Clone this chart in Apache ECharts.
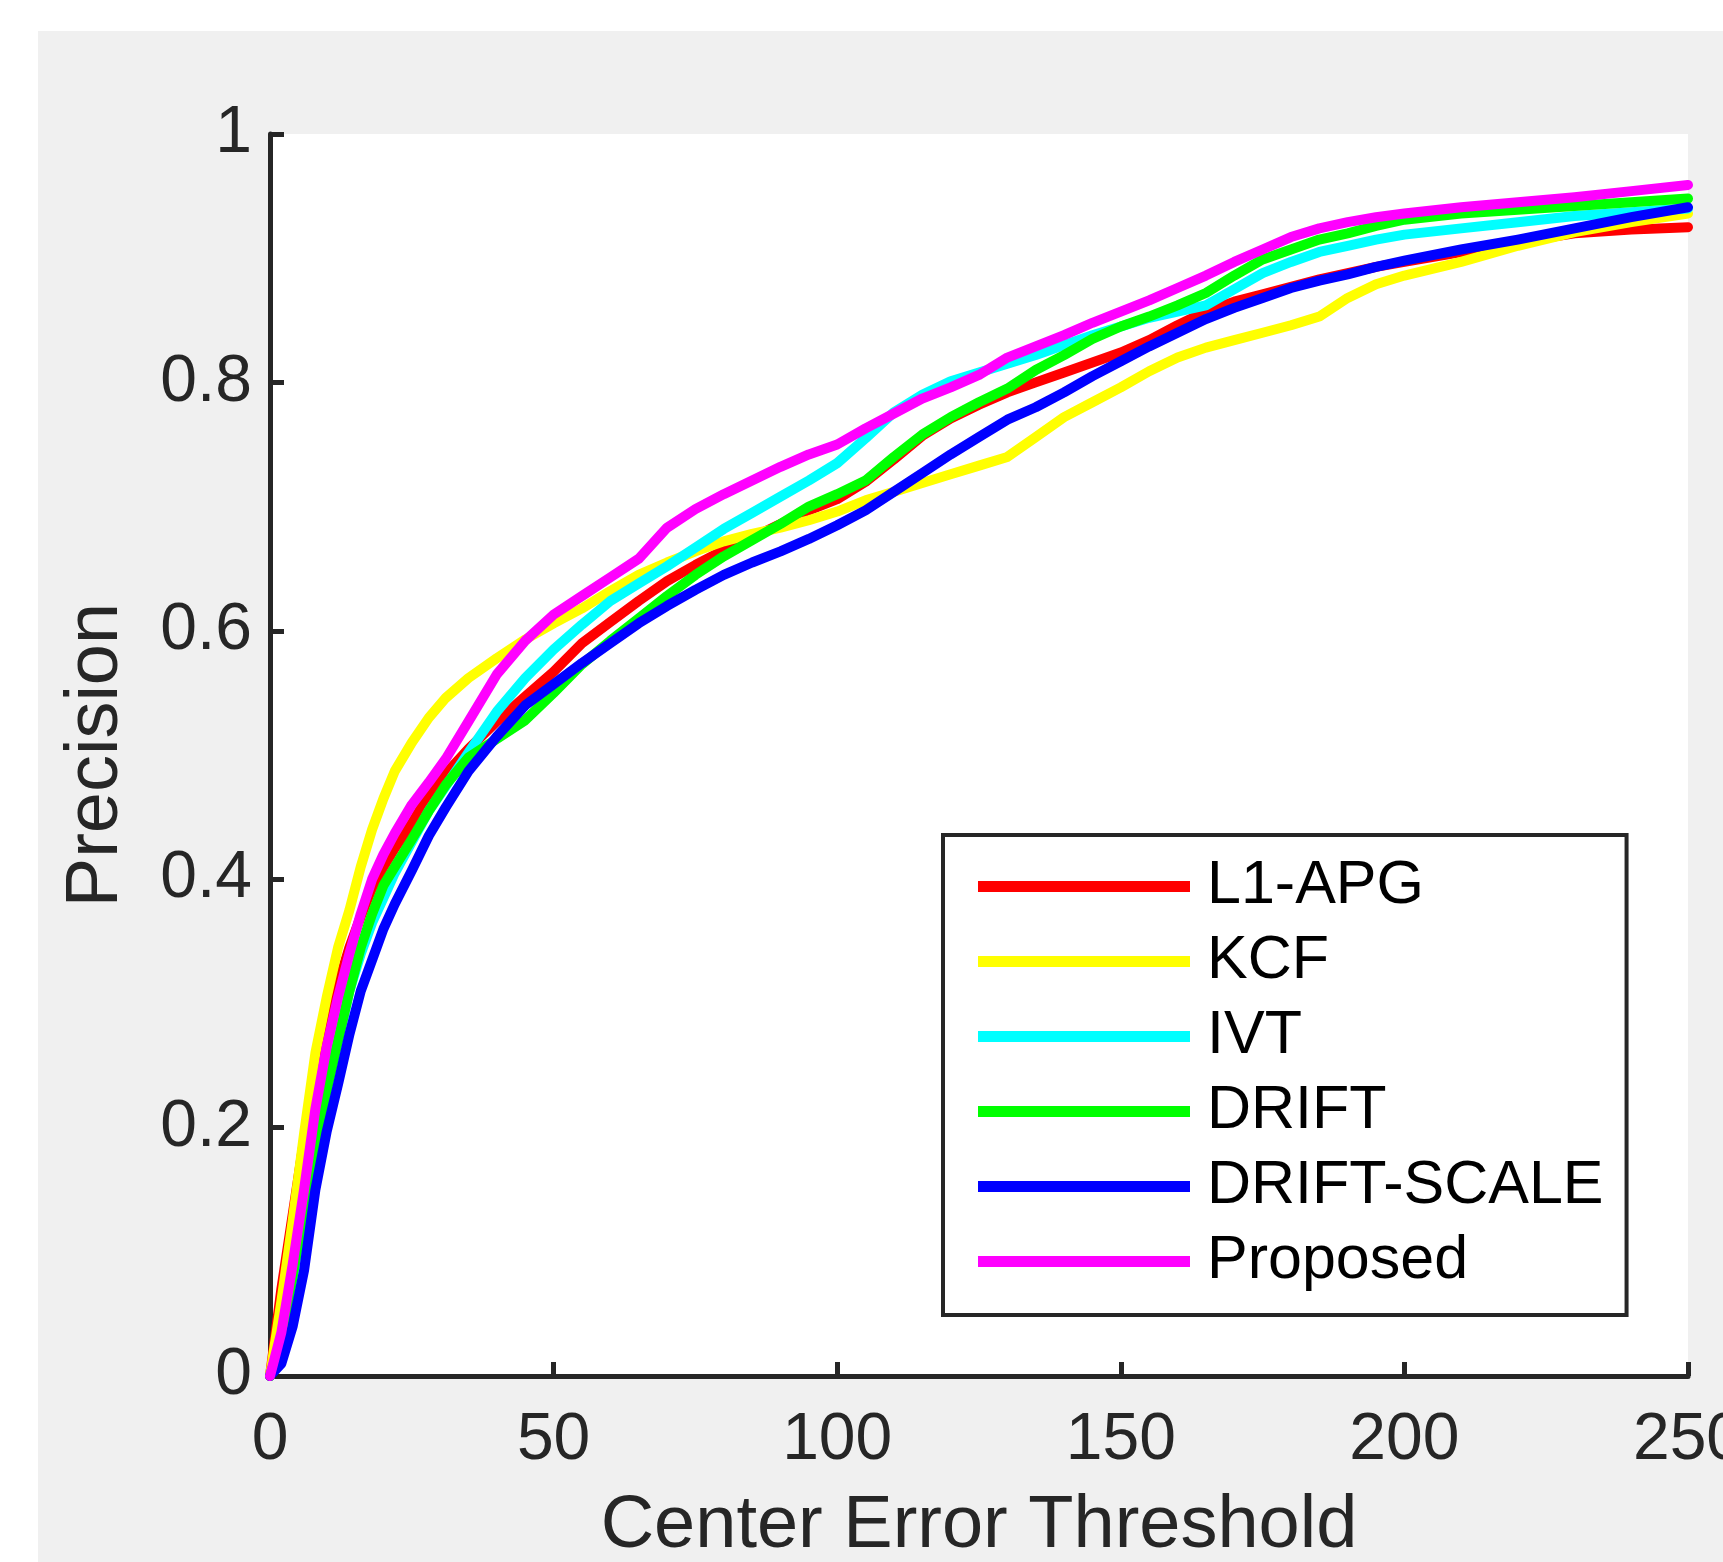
<!DOCTYPE html>
<html><head><meta charset="utf-8">
<script src="https://cdn.jsdelivr.net/npm/echarts@6/dist/echarts.min.js"></script>
<style>
html,body{margin:0;padding:0;background:#fff;width:1723px;height:1562px;overflow:hidden}
#chart{position:absolute;left:38px;top:31px;width:1685px;height:1531px}
</style>
</head><body><div id="chart"></div>
<script>
const xValues = [0,2,4,6,8,10,12,14,16,18,20,22,25,28,31,35,40,45,50,55,60,65,70,75,80,85,90,95,100,105,110,115,120,125,130,135,140,145,150,155,160,165,170,175,180,185,190,195,200,210,220,230,240,250];

const l1apg = [0,0.07,0.13,0.19,0.24,0.28, 0.315,0.345,0.37,0.393,0.41, 0.425,0.445,0.468,0.485,0.505, 0.527,0.547,0.567,0.59,0.607, 0.624,0.64,0.653,0.665,0.675, 0.686,0.697,0.706,0.72,0.738, 0.757,0.771,0.782,0.792,0.80, 0.808,0.816,0.824,0.834,0.846, 0.857,0.865,0.871,0.877,0.883, 0.888,0.893,0.897, 0.905,0.913,0.92,0.923,0.925];
const kcf = [0,0.06,0.125,0.195,0.26,0.305, 0.345,0.375,0.41,0.44,0.465, 0.487,0.51,0.53,0.546,0.562, 0.578,0.593,0.606,0.618,0.632, 0.645,0.655,0.664,0.672,0.678, 0.683,0.689,0.696,0.705,0.712, 0.719,0.726,0.733,0.74,0.756, 0.772,0.784,0.796,0.809,0.82, 0.828,0.834,0.84,0.846,0.853, 0.868,0.879,0.886, 0.897,0.91,0.921,0.929,0.936];
const ivt = [0,0.03,0.08,0.13,0.18,0.23, 0.27,0.31,0.34,0.365,0.385, 0.405,0.43,0.455,0.475,0.502, 0.535,0.562,0.585,0.605,0.624, 0.638,0.652,0.667,0.682,0.695, 0.708,0.721,0.735,0.755,0.776, 0.79,0.801,0.808,0.815,0.822, 0.83,0.838,0.845,0.852,0.857, 0.862,0.875,0.888,0.897,0.905, 0.91,0.915,0.919, 0.924,0.929,0.934,0.937,0.94];
const drift = [0,0.03,0.08,0.135,0.185,0.23, 0.27,0.31,0.345,0.372,0.395, 0.41,0.432,0.455,0.476,0.498, 0.513,0.528,0.55,0.573,0.592, 0.61,0.628,0.645,0.66,0.673, 0.686,0.7,0.71,0.721,0.74, 0.758,0.772,0.784,0.795,0.81, 0.822,0.835,0.845,0.853,0.862, 0.872,0.886,0.899,0.907,0.915, 0.92,0.926,0.931, 0.936,0.939,0.942,0.945,0.948];
const driftScale = [0,0.01,0.04,0.085,0.15,0.197, 0.235,0.275,0.31,0.335,0.36, 0.38,0.407,0.435,0.458,0.487, 0.515,0.54,0.557,0.574,0.59, 0.606,0.62,0.633,0.645,0.655, 0.664,0.674,0.685,0.697,0.712, 0.727,0.742,0.756,0.77,0.78, 0.792,0.805,0.817,0.829,0.84, 0.851,0.86,0.868,0.876,0.882, 0.887,0.893,0.898, 0.907,0.915,0.924,0.933,0.941];
const proposed = [0,0.035,0.09,0.15,0.215,0.265, 0.305,0.34,0.372,0.40,0.42, 0.437,0.46,0.478,0.497,0.527, 0.565,0.592,0.613,0.628,0.643, 0.658,0.683,0.698,0.71,0.721, 0.732,0.742,0.75,0.763,0.775, 0.787,0.796,0.806,0.82,0.829, 0.838,0.848,0.857,0.866,0.876, 0.886,0.897,0.907,0.917,0.924, 0.929,0.933,0.936, 0.941,0.945,0.949,0.954,0.959];

const seriesNames = ['L1-APG','KCF','IVT','DRIFT','DRIFT-SCALE','Proposed'];
const seriesColors = ['#ff0000','#ffff00','#00ffff','#00ff00','#0000ff','#ff00ff'];
const seriesValues = [l1apg, kcf, ivt, drift, driftScale, proposed];

const xTickLabels = ['0','50','100','150','200','250'];
const yTickLabels = ['0','0.2','0.4','0.6','0.8','1'];

const FONT = "'Liberation Sans', Arial, Helvetica, sans-serif";
const AX = '#262626';

const chart = echarts.init(document.getElementById('chart'), null, {renderer:'canvas'});
chart.setOption({
  animation: false,
  backgroundColor: '#f0f0f0',
  grid: {left: 232, top: 103, right: 35, bottom: 186, show: true, backgroundColor: '#ffffff', borderWidth: 0,
         containLabel: false, outerBoundsMode: 'none'},
  xAxis: {
    type: 'value', min: 0, max: 250, interval: 50,
    name: 'Center Error Threshold', nameLocation: 'middle', nameGap: 114,
    nameTextStyle: {fontFamily: FONT, fontSize: 74, color: AX},
    axisLine: {show: true, lineStyle: {color: AX, width: 5}},
    axisTick: {show: true, inside: true, length: 14, lineStyle: {color: AX, width: 5}},
    axisLabel: {fontFamily: FONT, fontSize: 66, color: AX, margin: 32, hideOverlap: false,
      formatter: v => xTickLabels[Math.round(v/50)]},
    splitLine: {show: false}
  },
  yAxis: {
    type: 'value', min: 0, max: 1, interval: 0.2,
    name: 'Precision', nameLocation: 'middle', nameGap: 136,
    nameTextStyle: {fontFamily: FONT, fontSize: 74, color: AX},
    axisLine: {show: true, lineStyle: {color: AX, width: 5}},
    axisTick: {show: true, inside: true, length: 14, lineStyle: {color: AX, width: 5}},
    axisLabel: {fontFamily: FONT, fontSize: 66, color: AX, margin: 18,
      formatter: v => yTickLabels[Math.round(v/0.2)]},
    splitLine: {show: false}
  },
  legend: {
    orient: 'vertical', left: 905, top: 804,
    data: seriesNames,
    icon: 'rect', itemWidth: 212, itemHeight: 11, itemGap: 14,
    padding: [21, 23, 23, 35],
    backgroundColor: '#ffffff', borderColor: AX, borderWidth: 4,
    selectedMode: false,
    textStyle: {fontFamily: FONT, fontSize: 61, lineHeight: 60, color: '#000', padding: [0,0,0,12]}
  },
  series: seriesNames.map((name, i) => ({
    name: name, type: 'line', showSymbol: false, symbol: 'none', clip: false,
    data: xValues.map((x, j) => [x, seriesValues[i][j]]),
    itemStyle: {color: seriesColors[i]},
    lineStyle: {color: seriesColors[i], width: 10, join: 'round', cap: 'round'}
  }))
});
</script></body></html>
